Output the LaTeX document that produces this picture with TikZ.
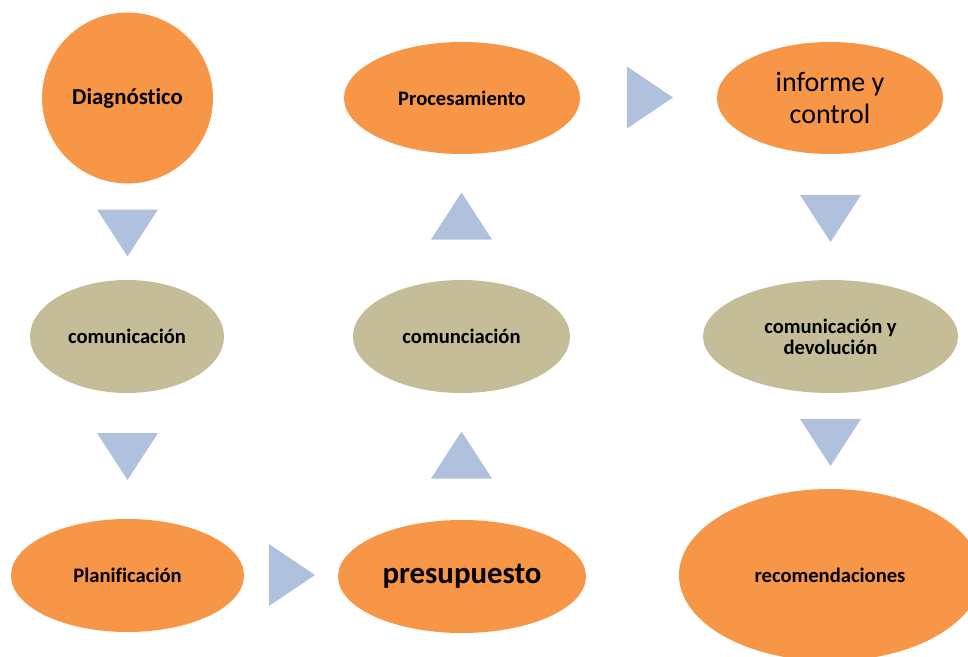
\documentclass[tikz,border=0pt]{standalone}
\usepackage{fontspec}
\setmainfont{Carlito}[Ligatures={NoCommon}]
\usetikzlibrary{shapes.geometric}
\definecolor{orng}{HTML}{F79646}
\definecolor{tanc}{HTML}{C4BD97}
\definecolor{tric}{HTML}{B0C1DD}
\begin{document}
\begin{tikzpicture}[x=1pt,y=-1pt,
  oval/.style={ellipse, inner sep=0pt, align=center, text=black},
  hot/.style={oval, fill=orng},
  calm/.style={oval, fill=tanc},
  lbl/.style={font=\bfseries\fontsize{20.6}{21}\selectfont},
  tridown/.pic={\fill[tric] (-30.5,-23.5) -- (30.5,-23.5) -- (0,23.5) -- cycle;},
  triup/.pic={\fill[tric] (-30.5,23.5) -- (30.5,23.5) -- (0,-23.5) -- cycle;},
  triright/.pic={\fill[tric] (-23,-31) -- (-23,31) -- (23,0) -- cycle;}
]
\useasboundingbox (0,0) rectangle (968,656);
\clip (0,0) rectangle (968,656);

\node[hot, circle, minimum size=171pt, font=\bfseries\fontsize{22.8}{24}\selectfont] (diag) at (127.5,98) {Diagnóstico};
\node[calm, minimum width=194pt, minimum height=113pt, lbl] (com1) at (127,336.5) {comunicación};
\node[hot, minimum width=233pt, minimum height=113pt, lbl] (plan) at (127.5,575.5) {Planificación};
\node[hot, minimum width=248pt, minimum height=113pt, font=\bfseries\fontsize{30.8}{34}\selectfont] (pres) at (462,576.5) {presupuesto};
\node[calm, minimum width=217pt, minimum height=113pt, lbl] (com2) at (461.5,336.5) {comunciación};
\node[hot, minimum width=236pt, minimum height=112pt, lbl] (proc) at (462,98) {Procesamiento};
\node[hot, minimum width=226pt, minimum height=112pt, font=\fontsize{28}{32}\selectfont] (inf) at (830,98) {informe y\\control};
\node[calm, minimum width=255pt, minimum height=113pt, lbl] (com3) at (830.5,336.5) {comunicación y\\devolución};
\node[hot, minimum width=302pt, minimum height=172pt, lbl] (rec) at (830,575) {recomendaciones};

\pic at (127.5,233) {tridown};
\pic at (127.5,456.5) {tridown};
\pic at (292,575) {triright};
\pic at (461.5,455) {triup};
\pic at (461.5,216) {triup};
\pic at (650,97.5) {triright};
\pic at (830.5,218.5) {tridown};
\pic at (830.5,442.5) {tridown};
\end{tikzpicture}
\end{document}
